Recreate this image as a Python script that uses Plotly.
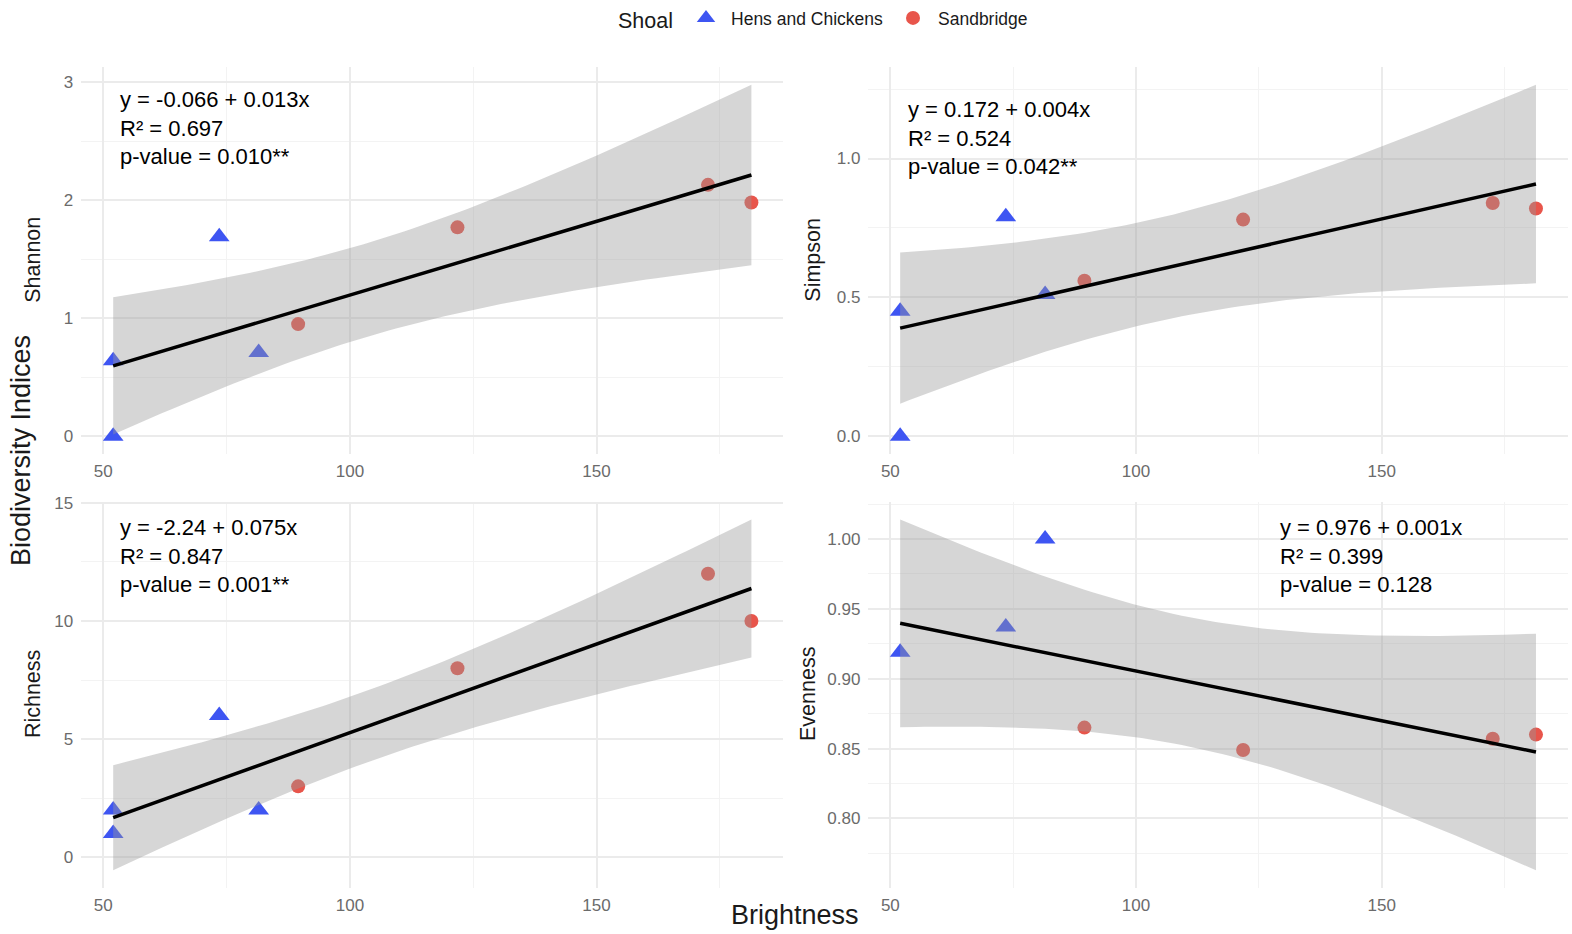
import numpy as np
import plotly.graph_objects as go

# ---------------- data ----------------
brightness_hens = [52.0, 52.0, 73.5, 81.5]
brightness_sand = [89.5, 121.8, 172.6, 181.4]

shannon_hens = [0.64, 0.0, 1.69, 0.71]
shannon_sand = [0.95, 1.77, 2.13, 1.98]

simpson_hens = [0.45, 0.0, 0.79, 0.51]
simpson_sand = [0.56, 0.78, 0.84, 0.82]

richness_hens = [2, 1, 6, 2]
richness_sand = [3, 8, 12, 10]

# evenness is undefined for the single-species site (not plotted)
evenness_hens = [0.919, None, 0.937, 1.000]
evenness_sand = [0.865, 0.849, 0.857, 0.860]

panel_names = ["Shannon", "Simpson", "Richness", "Evenness"]
fit_texts = [
    "y = -0.066 + 0.013x<br>R² = 0.697<br>p-value = 0.010**",
    "y = 0.172 + 0.004x<br>R² = 0.524<br>p-value = 0.042**",
    "y = -2.24 + 0.075x<br>R² = 0.847<br>p-value = 0.001**",
    "y = 0.976 + 0.001x<br>R² = 0.399<br>p-value = 0.128",
]
y_dticks = [1, 0.5, 5, 0.05]
y_formats = ["d", ".1f", "d", ".2f"]
x_dtick = 50

shoal_names = ["Hens and Chickens", "Sandbridge"]

# ---------------- styling ----------------
BLUE = "#3E55F2"
RED = "#E8554B"
FONT = "Liberation Sans, Arial, Helvetica, sans-serif"
W, H = 1572, 934

# panel domains (paper fractions)
x_dom = [[0.0517, 0.4983], [0.5524, 0.9973]]
y_dom = [[0.5142, 0.9281], [0.0495, 0.4626]]

# t quantiles (0.975) for residual degrees of freedom
T975 = {5: 2.570582, 6: 2.446912}


def linear_fit(x, y):
    x = np.asarray(x, float)
    y = np.asarray(y, float)
    n = len(x)
    b, a = np.polyfit(x, y, 1)
    xs = np.linspace(x.min(), x.max(), 80)
    yhat = a + b * xs
    resid = y - (a + b * x)
    s = np.sqrt((resid ** 2).sum() / (n - 2))
    sxx = ((x - x.mean()) ** 2).sum()
    se = s * np.sqrt(1.0 / n + (xs - x.mean()) ** 2 / sxx)
    t = T975[n - 2]
    return xs, yhat, yhat - t * se, yhat + t * se


def clean(xv, yv):
    pts = [(a, b) for a, b in zip(xv, yv) if b is not None]
    return [p[0] for p in pts], [p[1] for p in pts]


series = [
    (shannon_hens, shannon_sand),
    (simpson_hens, simpson_sand),
    (richness_hens, richness_sand),
    (evenness_hens, evenness_sand),
]

fig = go.Figure()
layout_axes = {}
annotations = []

for i, (yh, ys) in enumerate(series):
    row, col = divmod(i, 2)
    k = "" if i == 0 else str(i + 1)
    xa, ya = "x" + k, "y" + k
    xh, yh_c = clean(brightness_hens, yh)
    xs_, ys_c = clean(brightness_sand, ys)

    fig.add_trace(go.Scatter(
        x=xh, y=yh_c, mode="markers", name=shoal_names[0],
        legendgroup="h", showlegend=(i == 0),
        marker=dict(symbol="triangle-up", size=18, color=BLUE),
        xaxis=xa, yaxis=ya))
    fig.add_trace(go.Scatter(
        x=xs_, y=ys_c, mode="markers", name=shoal_names[1],
        legendgroup="s", showlegend=(i == 0),
        marker=dict(symbol="circle", size=14, color=RED),
        xaxis=xa, yaxis=ya))

    allx = xh + xs_
    ally = yh_c + ys_c
    gx, gy, lo, hi = linear_fit(allx, ally)
    fig.add_trace(go.Scatter(
        x=list(gx) + list(gx[::-1]), y=list(hi) + list(lo[::-1]),
        fill="toself", fillcolor="rgba(153,153,153,0.4)",
        line=dict(width=0), mode="lines", hoverinfo="skip",
        showlegend=False, xaxis=xa, yaxis=ya))
    fig.add_trace(go.Scatter(
        x=gx, y=gy, mode="lines", line=dict(color="black", width=3.5),
        showlegend=False, xaxis=xa, yaxis=ya))

    xmin, xmax = min(allx), max(allx)
    xspan = xmax - xmin
    ymin = min(min(ally), lo.min())
    ymax = max(max(ally), hi.max())
    yspan = ymax - ymin

    grid = dict(showgrid=True, gridcolor="#EBEBEB", gridwidth=1.5,
                zeroline=False, showline=False, ticks="", automargin=False,
                tickfont=dict(family=FONT, size=17, color="#6B6B6B"))
    layout_axes["xaxis" + k] = dict(
        domain=x_dom[col], anchor=ya,
        range=[xmin - 0.05 * xspan, xmax + 0.05 * xspan],
        tick0=0, dtick=x_dtick, ticklabelstandoff=5,
        minor=dict(dtick=x_dtick / 2, showgrid=True, gridcolor="#F3F3F3", gridwidth=1),
        **grid)
    layout_axes["yaxis" + k] = dict(
        domain=y_dom[row], anchor=xa,
        range=[ymin - 0.05 * yspan, ymax + 0.05 * yspan],
        tick0=0, dtick=y_dticks[i], tickformat=y_formats[i], ticklabelstandoff=7,
        minor=dict(dtick=y_dticks[i] / 2, showgrid=True, gridcolor="#F3F3F3", gridwidth=1),
        **grid)

# fit-statistic labels
ann_pos = [(0.0527, 0.842), (0.0545, 0.816), (0.0527, 0.859), (0.586, 0.859)]
for i, (ax_, ay_) in enumerate(ann_pos):
    k = "" if i == 0 else str(i + 1)
    annotations.append(dict(
        text=fit_texts[i], xref="x" + k + " domain", yref="y" + k + " domain",
        x=ax_, y=ay_, xanchor="left", yanchor="middle", align="left",
        showarrow=False, font=dict(family=FONT, size=22, color="black")))

# panel y titles
ytitle_pos = [(33.1, 259.7), (813.0, 259.7), (33.1, 694.0), (808.0, 694.0)]
for i, (px, py) in enumerate(ytitle_pos):
    annotations.append(dict(
        text=panel_names[i], xref="paper", yref="paper",
        x=px / W, y=1 - py / H, xanchor="center", yanchor="middle",
        textangle=-90, showarrow=False,
        font=dict(family=FONT, size=21.5, color="#1A1A1A")))

# shared titles
annotations.append(dict(
    text="Biodiversity Indices", xref="paper", yref="paper",
    x=21 / W, y=1 - 451 / H, xanchor="center", yanchor="middle",
    textangle=-90, showarrow=False,
    font=dict(family=FONT, size=27, color="#1A1A1A")))
annotations.append(dict(
    text="Brightness", xref="paper", yref="paper",
    x=795 / W, y=1 - 915 / H, xanchor="center", yanchor="middle",
    showarrow=False, font=dict(family=FONT, size=27, color="#1A1A1A")))

fig.update_layout(
    width=W, height=H,
    margin=dict(l=0, r=0, t=0, b=0, autoexpand=False),
    plot_bgcolor="white", paper_bgcolor="white",
    showlegend=True,
    legend=dict(
        orientation="h", x=0.5245, xanchor="center", y=1.0, yanchor="top",
        itemwidth=40,
        title=dict(text="Shoal", side="left",
                   font=dict(family=FONT, size=21.5, color="#1A1A1A")),
        font=dict(family=FONT, size=17.5, color="#1A1A1A"),
        bgcolor="rgba(0,0,0,0)"),
    annotations=annotations,
    **layout_axes,
)

fig.write_html(
    "out.html",
    config={"displayModeBar": False},
    post_script="document.body.style.margin='0';document.body.style.overflow='hidden';",
)
